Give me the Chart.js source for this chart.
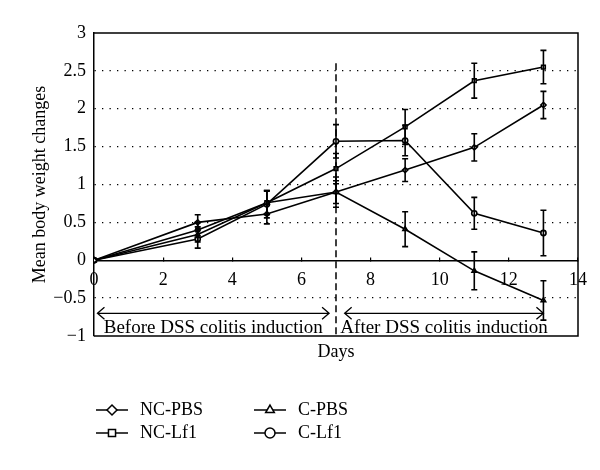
<!DOCTYPE html>
<html><head><meta charset="utf-8">
<script src="https://cdn.jsdelivr.net/npm/chart.js@4"></script>
<style>html,body{margin:0;padding:0;background:#fff}</style>
</head><body>
<canvas id="c" width="600" height="470"></canvas>
<script>
// ---- data ----
const days = [0, 3, 5, 7, 9, 11, 13];
const seriesLabels = ['NC-PBS', 'NC-Lf1', 'C-PBS', 'C-Lf1'];
const ncPbs    = [0, 0.50, 0.61, 0.90, 1.19, 1.49, 2.05];
const ncPbsErr = [0, 0.10, 0.13, 0.15, 0.15, 0.18, 0.18];
const ncLf1    = [0, 0.40, 0.76, 1.21, 1.76, 2.37, 2.55];
const ncLf1Err = [0, 0.10, 0.16, 0.20, 0.23, 0.23, 0.22];
const cPbs     = [0, 0.34, 0.76, 0.90, 0.41, -0.14, -0.53];
const cPbsErr  = [0, 0.10, 0.15, 0.20, 0.23, 0.25, 0.26];
const cLf1     = [0, 0.28, 0.74, 1.57, 1.58, 0.62, 0.36];
const cLf1Err  = [0, 0.12, 0.18, 0.22, 0.20, 0.21, 0.30];
const xTicks = [0, 2, 4, 6, 8, 10, 12, 14];
const yTicks = [-1, -0.5, 0, 0.5, 1, 1.5, 2, 2.5, 3];
const phaseLabels = ['Before DSS colitis induction', 'After DSS colitis induction'];
const inductionDay = 7;
const phaseStart = [0.1, 7.25];
const phaseEnd = [6.8, 13.0];

// ---- styling ----
const FONT = {family: "'Liberation Serif', 'DejaVu Serif', serif", size: 18};
const fontStr = px => px + "px 'Liberation Serif', 'DejaVu Serif', serif";
const pointStyles = ['rectRot', 'rect', 'triangle', 'circle'];
const values = [ncPbs, ncLf1, cPbs, cLf1];
const errors = [ncPbsErr, ncLf1Err, cPbsErr, cLf1Err];
const PAD = {left: 20, right: 22, top: 33, bottom: 104};

const datasets = seriesLabels.map((lab, i) => ({
  label: lab,
  data: days.map((d, j) => ({x: d, y: values[i][j]})),
  errors: errors[i],
  borderColor: '#000',
  borderWidth: 1.6,
  pointStyle: pointStyles[i],
  pointRadius: 2.6,
  pointBorderWidth: 1.6,
  pointBackgroundColor: '#fff',
  pointBorderColor: '#000',
  tension: 0,
  fill: false
}));

const errorBars = {
  id: 'errorBars',
  afterDatasetsDraw(chart) {
    const {ctx, scales: {y}} = chart;
    ctx.save();
    ctx.strokeStyle = '#000';
    ctx.lineWidth = 1.6;
    chart.data.datasets.forEach((ds, i) => {
      const meta = chart.getDatasetMeta(i);
      meta.data.forEach((pt, j) => {
        const e = ds.errors[j];
        if (!e) return;
        const v = ds.data[j].y;
        const t = y.getPixelForValue(v + e), b = y.getPixelForValue(v - e);
        ctx.beginPath();
        ctx.moveTo(pt.x, t); ctx.lineTo(pt.x, b);
        ctx.moveTo(pt.x - 3, t); ctx.lineTo(pt.x + 3, t);
        ctx.moveTo(pt.x - 3, b); ctx.lineTo(pt.x + 3, b);
        ctx.stroke();
      });
    });
    ctx.restore();
  }
};

const frame = {
  id: 'frame',
  beforeDatasetsDraw(chart) {
    const {ctx, chartArea: a, scales: {x, y}} = chart;
    ctx.save();
    ctx.strokeStyle = '#000';
    ctx.lineWidth = 1.5;
    ctx.beginPath();
    ctx.moveTo(a.left, a.top); ctx.lineTo(a.right, a.top);
    ctx.lineTo(a.right, a.bottom); ctx.lineTo(a.left, a.bottom);
    ctx.stroke();
    // induction divider
    const xd = x.getPixelForValue(inductionDay);
    ctx.setLineDash([7, 4]);
    ctx.beginPath();
    ctx.moveTo(xd, y.getPixelForValue(2.6)); ctx.lineTo(xd, a.bottom);
    ctx.stroke();
    ctx.setLineDash([]);
    // phase arrows
    const ay = y.getPixelForValue(-0.7);
    const ty = y.getPixelForValue(-0.9);
    ctx.lineWidth = 1.3;
    ctx.font = fontStr(19);
    ctx.fillStyle = '#000';
    ctx.textAlign = 'center';
    ctx.textBaseline = 'middle';
    phaseLabels.forEach((lab, i) => {
      const x1 = x.getPixelForValue(phaseStart[i]), x2 = x.getPixelForValue(phaseEnd[i]);
      ctx.beginPath();
      ctx.moveTo(x1, ay); ctx.lineTo(x2, ay);
      ctx.moveTo(x1 + 7, ay - 6); ctx.lineTo(x1, ay); ctx.lineTo(x1 + 7, ay + 6);
      ctx.moveTo(x2 - 7, ay - 6); ctx.lineTo(x2, ay); ctx.lineTo(x2 - 7, ay + 6);
      ctx.stroke();
      ctx.fillText(lab, (x1 + x2) / 2, ty);
    });
    ctx.restore();
  }
};

const legendGrid = {
  id: 'legendGrid',
  afterDraw(chart) {
    const {ctx} = chart;
    const cols = [112, 270], rows = [410, 433];
    ctx.save();
    ctx.font = fontStr(18);
    ctx.textAlign = 'left';
    ctx.textBaseline = 'middle';
    chart.data.datasets.forEach((ds, i) => {
      const col = (i === 0 || i === 1) ? 0 : 1;
      const row = (i === 0 || i === 2) ? 0 : 1;
      const mx = cols[col], my = rows[row];
      ctx.strokeStyle = '#000';
      ctx.lineWidth = 1.5;
      ctx.beginPath();
      ctx.moveTo(mx - 16, my); ctx.lineTo(mx + 16, my);
      ctx.stroke();
      ctx.fillStyle = '#fff';
      Chart.helpers.drawPoint(ctx, {pointStyle: ds.pointStyle, radius: 5, borderWidth: 1.5, rotation: 0}, mx, my);
      ctx.fillStyle = '#000';
      ctx.fillText(ds.label, mx + 28, my);
    });
    ctx.restore();
  }
};

new Chart(document.getElementById('c'), {
  type: 'line',
  data: {datasets},
  plugins: [frame, errorBars, legendGrid],
  options: {
    responsive: false,
    animation: false,
    layout: {padding: PAD},
    plugins: {legend: {display: false}, tooltip: {enabled: false}},
    scales: {
      x: {
        type: 'linear', min: 0, max: 14, position: {y: 0},
        afterBuildTicks: s => { s.ticks = xTicks.map(v => ({value: v})); },
        ticks: {font: FONT, color: '#000', padding: 13, maxRotation: 0, autoSkip: false},
        grid: {drawOnChartArea: false, drawTicks: true, tickLength: -4, tickColor: '#000', lineWidth: 1.2},
        border: {color: '#000', width: 1.5},
        afterFit: s => { s.height = 0; }
      },
      x2: {
        type: 'linear', min: 0, max: 14, position: 'bottom', display: true,
        ticks: {display: false},
        grid: {display: false, drawTicks: false},
        border: {display: false},
        title: {display: true, text: 'Days', font: FONT, color: '#000', padding: {top: 0, bottom: 3}},
        afterFit: s => { s.height = 30; }
      },
      y: {
        type: 'linear', min: -1, max: 3, position: 'left',
        afterBuildTicks: s => { s.ticks = yTicks.map(v => ({value: v})); },
        ticks: {font: FONT, color: '#000', padding: 8, callback: v => String(v).replace('-', '\u2212')},
        grid: {drawTicks: false, lineWidth: 1.3,
          color: c => (c.tick && [0, 3, -1].includes(c.tick.value)) ? 'rgba(0,0,0,0)' : '#000'},
        border: {color: '#000', width: 1.5, dash: [1.3, 6.2]},
        title: {display: true, text: 'Mean body weight changes', font: FONT, color: '#000', padding: {top: 9, bottom: 0}},
        afterFit: s => { s.width = 94 - PAD.left; }
      }
    }
  }
});
</script>
</body></html>
